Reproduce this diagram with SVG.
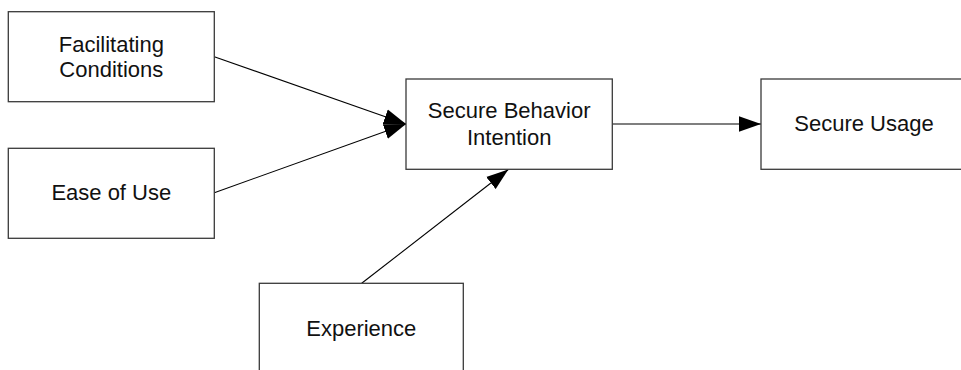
<svg xmlns="http://www.w3.org/2000/svg" width="961" height="370" viewBox="0 0 961 370">
<style>
.box{fill:#fff;stroke:#3a3a3a;stroke-width:1.3}
.lbl{font-family:"Liberation Sans",Arial,sans-serif;font-size:22px;fill:#111;text-anchor:middle}
.conn{stroke:#000;stroke-width:1.1;fill:none}
</style>
<defs>
<marker id="ah" markerUnits="userSpaceOnUse" markerWidth="22" markerHeight="16" viewBox="0 0 20 14" refX="20" refY="7" orient="auto">
<path d="M0,0 L20,7 L0,14 Z" fill="#000"/>
</marker>
</defs>
<rect width="961" height="370" fill="#fff"/>
<g id="connectors">
<line class="conn" x1="214.3" y1="56.7" x2="406" y2="124" marker-end="url(#ah)"/>
<line class="conn" x1="214.3" y1="192.7" x2="406" y2="124" marker-end="url(#ah)"/>
<line class="conn" x1="612.3" y1="124" x2="761" y2="124" marker-end="url(#ah)"/>
<line class="conn" x1="361.7" y1="283.3" x2="508.3" y2="169.5" marker-end="url(#ah)"/>
</g>
<g id="facilitating-conditions">
<rect class="box" x="8.3" y="11.7" width="206" height="90"/>
<text class="lbl" x="111.3" y="51.7">Facilitating</text>
<text class="lbl" x="111.3" y="76.5">Conditions</text>
</g>
<g id="ease-of-use">
<rect class="box" x="8.3" y="148.3" width="206" height="90"/>
<text class="lbl" x="111.3" y="200">Ease of Use</text>
</g>
<g id="secure-behavior-intention">
<rect class="box" x="406" y="79" width="206.3" height="90.3"/>
<text class="lbl" x="509.2" y="118.3">Secure Behavior</text>
<text class="lbl" x="509.2" y="145">Intention</text>
</g>
<g id="secure-usage">
<rect class="box" x="761" y="79" width="206" height="90.3"/>
<text class="lbl" x="864" y="131">Secure Usage</text>
</g>
<g id="experience">
<rect class="box" x="259.3" y="283.3" width="204" height="100"/>
<text class="lbl" x="361.3" y="335.7">Experience</text>
</g>
</svg>
